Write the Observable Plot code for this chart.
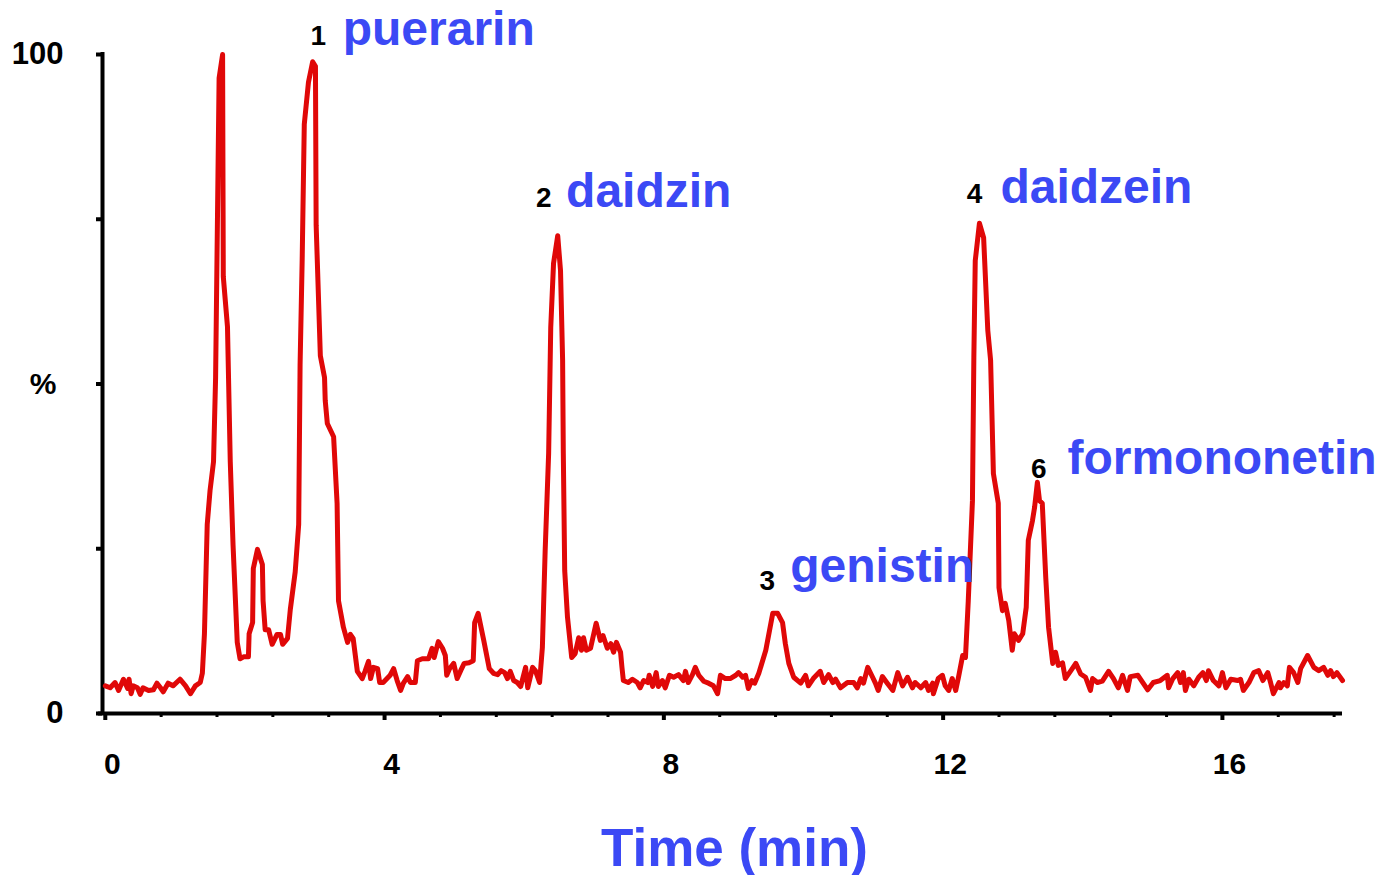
<!DOCTYPE html>
<html>
<head>
<meta charset="utf-8">
<script src="https://cdn.jsdelivr.net/npm/d3@7"></script>
<script src="https://cdn.jsdelivr.net/npm/@observablehq/plot@0.6"></script>
<style>
  html, body { margin: 0; padding: 0; background: #fff; }
</style>
</head>
<body>
<div id="chart"></div>
<script>
// Retention time (min)
const retentionTime = [
  0.00,0.07,0.14,0.19,0.26,0.32,0.34,0.37,0.40,0.46,0.50,0.54,0.62,0.69,0.74,0.79,0.83,0.90,0.97,1.07,1.15,1.22,1.29,1.36,
  1.39,1.42,1.46,1.50,1.55,1.58,1.63,1.68,1.69,1.75,1.79,1.83,1.89,1.93,1.98,2.05,2.06,2.11,2.12,2.18,2.25,2.26,2.29,2.34,2.39,2.46,
  2.51,2.54,2.61,2.65,2.72,2.77,2.79,2.82,2.85,2.91,2.97,3.01,3.02,3.08,3.14,3.15,3.18,3.27,3.32,3.34,3.41,3.47,3.51,3.55,3.61,3.68,
  3.72,3.77,3.80,3.84,3.90,3.93,3.98,
  4.08,4.13,4.18,4.23,4.27,4.33,4.37,4.44,4.47,4.54,4.63,4.68,4.71,4.77,4.83,4.87,4.89,4.93,4.99,5.04,5.09,5.14,5.21,5.27,5.29,5.34,
  5.42,5.50,5.56,5.62,5.67,5.72,5.76,5.80,5.85,5.90,5.95,6.02,6.05,6.12,6.16,6.22,
  6.26,6.30,6.35,6.38,6.42,6.48,6.52,6.55,6.56,6.58,6.62,6.68,6.73,6.78,6.82,6.85,6.89,6.95,7.03,7.09,7.13,7.19,7.24,7.28,7.32,7.38,
  7.40,7.42,7.49,7.55,7.62,7.66,7.71,7.77,7.79,7.84,7.89,7.92,7.98,8.02,8.08,8.14,8.21,8.28,8.31,8.35,8.41,8.45,8.50,8.57,8.64,8.71,
  8.77,8.81,8.88,8.95,9.03,9.07,9.13,9.17,9.21,9.26,9.30,9.36,9.46,9.56,9.63,9.70,9.74,9.79,9.86,9.96,
  10.03,10.07,10.14,10.24,10.29,10.36,10.42,10.46,10.53,10.63,10.72,10.77,10.82,10.86,10.92,10.99,11.03,11.07,11.13,11.20,11.28,11.35,
  11.42,11.49,11.56,11.60,11.68,11.75,11.79,11.85,11.86,11.93,11.99,12.03,12.08,12.13,12.18,12.22,12.28,12.32,12.36,12.42,12.44,12.46,
  12.52,12.58,12.64,12.68,12.72,12.79,12.80,12.85,12.89,12.94,12.99,13.02,13.08,13.14,13.19,13.22,13.28,13.31,13.35,13.38,13.42,13.47,
  13.51,13.57,13.61,13.65,13.71,13.75,13.83,13.90,13.97,14.04,14.11,14.14,14.21,14.28,14.37,14.44,14.51,14.57,14.64,14.68,14.79,14.86,
  14.93,15.01,15.11,15.21,15.23,15.29,15.36,15.40,15.44,15.47,15.52,15.59,15.66,15.72,15.77,15.80,15.87,15.95,16.00,16.05,16.12,16.22,
  16.26,16.30,16.38,16.45,16.52,16.58,16.65,16.69,16.73,16.81,16.83,16.88,16.93,16.96,17.02,17.08,17.12,17.22,17.31,17.38,17.45,17.51,
  17.55,17.59,17.64,17.72
];

// Relative abundance (%)
const relativeAbundance = [
  4.2,3.9,4.7,3.5,5.2,3.8,5.2,3.0,4.2,3.9,2.9,3.9,3.5,3.6,4.6,3.9,3.3,4.6,4.2,5.2,4.2,3.0,4.2,4.7,
  6.1,12.1,28.7,33.8,38.2,51.0,96.4,100,66.3,58.7,38.2,25.5,10.8,8.3,8.6,8.6,12.1,13.8,22.0,24.9,22.6,17.1,12.7,12.7,10.5,12.0,
  12.0,10.5,11.4,15.8,21.5,28.7,53.0,68.9,89.4,95.8,98.9,98.2,74.1,54.3,51.0,47.5,44.0,42.0,31.9,17.1,13.1,10.8,12.0,11.4,6.4,5.3,
  6.4,7.9,5.3,7.0,6.8,4.7,4.7,
  5.8,6.8,5.0,3.5,4.6,5.6,4.7,4.7,8.0,8.3,8.3,9.9,8.5,10.9,9.9,8.8,5.8,6.8,7.6,5.3,6.5,7.6,7.7,8.0,13.8,15.2,
  11.1,6.8,6.1,5.9,6.5,6.2,5.3,6.4,5.0,4.7,4.1,7.0,3.9,7.0,6.5,4.7,
  10.0,24.7,39.5,58.6,68.3,72.5,67.2,53.6,39.5,21.7,14.6,8.5,9.1,11.5,9.6,11.5,9.6,9.9,13.7,11.1,11.8,9.9,10.6,9.3,10.8,9.3,
  7.0,5.0,4.7,5.2,4.7,3.9,5.0,4.7,5.8,4.1,6.2,4.1,5.0,3.9,5.8,5.5,5.9,5.0,6.4,4.7,5.9,7.0,5.8,4.9,4.6,4.2,
  3.0,5.8,5.3,5.3,5.8,6.2,5.5,5.8,3.8,5.0,4.6,6.1,9.6,15.2,15.2,13.8,10.6,7.6,5.5,4.6,
  5.8,4.2,5.3,6.4,4.7,5.9,4.7,5.2,3.9,4.7,4.7,3.9,5.3,4.6,7.0,5.5,4.6,3.5,5.6,4.6,3.5,6.2,
  4.2,5.5,3.9,4.7,3.9,4.7,3.5,4.6,3.0,5.3,5.8,4.2,3.5,5.3,3.5,5.5,8.8,8.5,17.1,32.3,54.0,68.7,
  74.4,72.2,58.1,53.6,36.4,31.9,19.1,15.6,16.7,14.1,9.6,12.1,11.1,12.1,16.1,26.3,29.3,31.3,35.1,32.3,31.9,20.6,
  13.1,7.6,9.3,7.3,7.7,5.3,6.5,7.6,6.0,5.5,3.5,5.3,4.7,4.9,6.4,5.3,3.9,5.8,3.5,5.6,5.8,4.7,
  3.6,4.7,5.0,5.8,3.9,5.3,6.2,4.7,6.2,3.5,5.2,4.2,5.5,6.2,5.0,6.5,5.0,4.2,6.2,3.9,5.2,5.0,
  5.2,3.5,4.7,6.2,6.5,5.0,6.2,4.7,3.0,4.7,3.9,4.7,4.2,7.0,6.2,4.7,6.8,8.8,7.0,6.5,7.0,5.8,
  6.5,5.6,6.2,5.0
];

// Axis ticks
const xTickValues = [0, 4, 8, 12, 16];
const xMinorStep = 0.8;
const yTickValues = [0, 25, 50, 75, 100];
const yTickLabels = [0, 100];

// Peak annotations
const peakNumbers = ["1", "2", "3", "4", "6"];
const peakNumberTime = [3.05, 6.28, 9.48, 12.45, 13.37];
const peakNumberLevel = [101.5, 76.8, 18.8, 77.4, 35.8];
const compoundNames = ["puerarin", "daidzin", "genistin", "daidzein", "formononetin"];
const compoundTime = [3.40, 6.60, 9.81, 12.82, 13.78];
const compoundLevel = [101.5, 76.9, 19.9, 77.5, 36.3];

const xLabel = "Time (min)";
const yLabel = "%";

const BLUE = "#3b49f5";
const RED = "#e00808";
const FONT = "'Liberation Sans', Arial, Helvetica, sans-serif";

const trace = retentionTime.map((t, i) => ({t, v: relativeAbundance[i]}));
const xMinorTicks = d3.range(0, 17.75, xMinorStep)
  .filter(v => Math.abs(v / 4 - Math.round(v / 4)) > 1e-6);
const numberLabels = peakNumbers.map((s, i) => ({s, t: peakNumberTime[i], v: peakNumberLevel[i]}));
const nameLabels = compoundNames.map((s, i) => ({s, t: compoundTime[i], v: compoundLevel[i]}));

const chart = Plot.plot({
  width: 1380,
  height: 875,
  marginLeft: 102,
  marginRight: 38,
  marginTop: 54,
  marginBottom: 162,
  x: {domain: [-0.04, 17.72]},
  y: {domain: [0, 100]},
  style: {fontFamily: FONT, background: "white", color: "black", overflow: "visible"},
  marks: [
    Plot.axisY(yTickValues, {tickSize: 6, strokeWidth: 4, text: null, label: null}),
    Plot.axisY(yTickLabels, {tickSize: 0, tickPadding: 39, fontSize: 31, fontWeight: "bold", label: null}),
    Plot.axisX(xTickValues, {tickSize: 7, strokeWidth: 4, text: null, label: null}),
    Plot.axisX(xMinorTicks, {tickSize: 4, strokeWidth: 3, text: null, label: null}),
    Plot.axisX(xTickValues, {tickSize: 0, tickPadding: 39, dx: 7, fontSize: 30, fontWeight: "bold", label: null}),
    Plot.ruleX([-0.04], {y1: -0.3, y2: 100.3, strokeWidth: 4, stroke: "black"}),
    Plot.ruleY([0], {x1: -0.1, x2: 17.72, strokeWidth: 4, stroke: "black"}),
    Plot.line(trace, {x: "t", y: "v", stroke: RED, strokeWidth: 5, strokeLinejoin: "round", strokeLinecap: "round"}),
    Plot.text(numberLabels, {x: "t", y: "v", text: "s", textAnchor: "middle", lineAnchor: "bottom", fontSize: 28, fontWeight: "bold", fill: "black"}),
    Plot.text(nameLabels, {x: "t", y: "v", text: "s", textAnchor: "start", lineAnchor: "bottom", fontSize: 48, fontWeight: "bold", fill: BLUE}),
    Plot.text([yLabel], {text: d => d, frameAnchor: "left", dx: -46, textAnchor: "end", lineAnchor: "middle", fontSize: 30, fontWeight: "bold", fill: "black"}),
    Plot.text([xLabel], {text: d => d, frameAnchor: "bottom", dx: 12, dy: 152, textAnchor: "middle", lineAnchor: "bottom", fontSize: 53, fontWeight: "bold", fill: BLUE})
  ]
});
document.getElementById("chart").appendChild(chart);
</script>
</body>
</html>
